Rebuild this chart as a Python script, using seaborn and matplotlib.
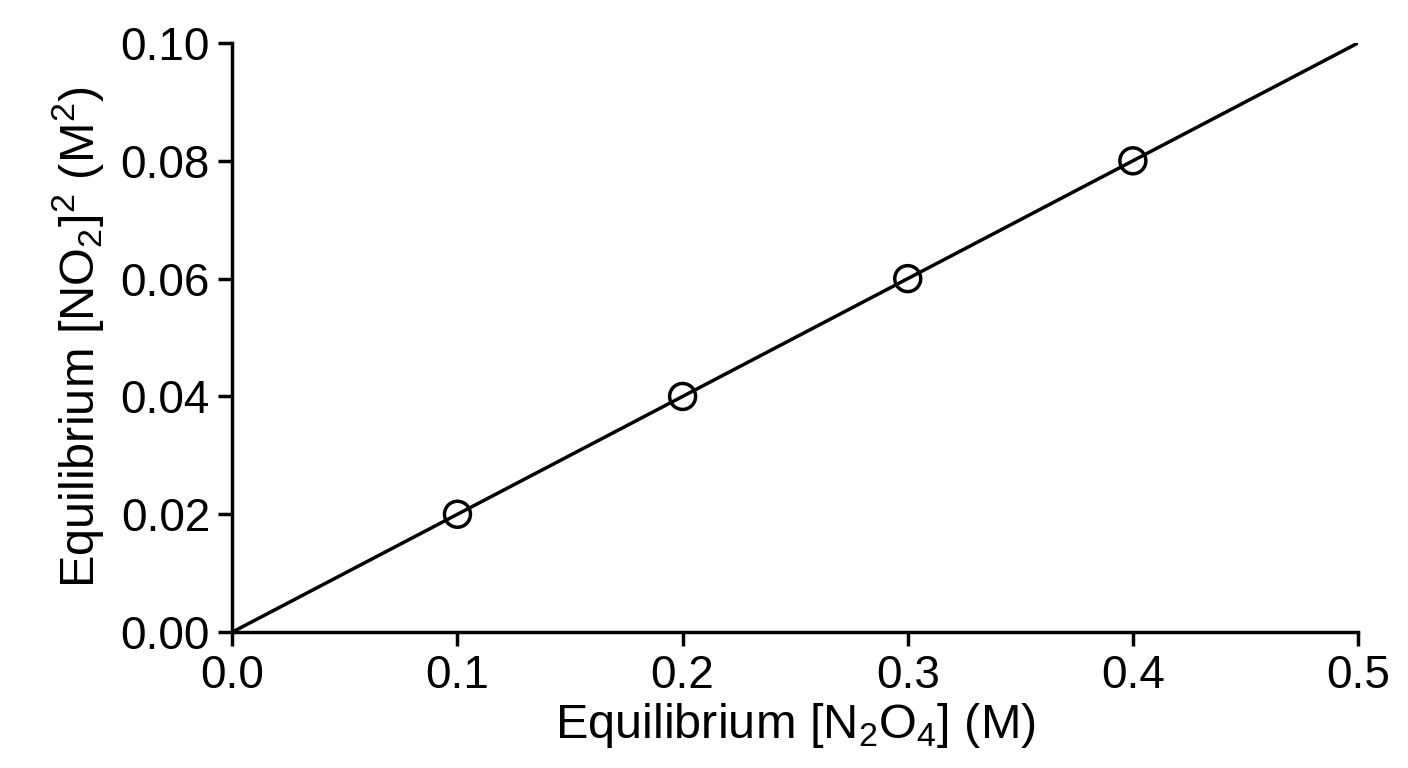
import numpy as np
import seaborn as sns
import matplotlib.pyplot as plt

n2o4 = [0.1, 0.2, 0.3, 0.4]
no2_sq = [0.02, 0.04, 0.06, 0.08]
fit_x = [0.0, 0.5]
fit_y = [0.0, 0.10]

sns.set_style('ticks')
plt.rcParams['font.family'] = ['Liberation Sans', 'DejaVu Sans']
plt.rcParams['mathtext.fontset'] = 'custom'
plt.rcParams['mathtext.rm'] = 'Liberation Sans'
plt.rcParams['text.color'] = 'black'
plt.rcParams['axes.labelcolor'] = 'black'
plt.rcParams['xtick.color'] = 'black'
plt.rcParams['ytick.color'] = 'black'
plt.rcParams['axes.edgecolor'] = 'black'

fig = plt.figure(figsize=(14.08, 7.68), dpi=100)
ax = fig.add_axes([0.165, 0.177, 0.7995, 0.767])

sns.lineplot(x=fit_x, y=fit_y, color='black', linewidth=2.5, ax=ax)
sns.scatterplot(x=n2o4, y=no2_sq, s=350, facecolor='none', edgecolor='black',
                linewidth=2.5, ax=ax, zorder=3)

ax.set_xlim(0, 0.5)
ax.set_ylim(0, 0.10)
ax.set_xticks([0.0, 0.1, 0.2, 0.3, 0.4, 0.5])
ax.set_xticklabels(['0.0', '0.1', '0.2', '0.3', '0.4', '0.5'])
ax.set_yticks([0.0, 0.02, 0.04, 0.06, 0.08, 0.10])
ax.set_yticklabels(['0.00', '0.02', '0.04', '0.06', '0.08', '0.10'])
ax.tick_params(axis='both', labelsize=33, width=2.5, length=10, direction='out', pad=6)
for s in ['left', 'bottom']:
    ax.spines[s].set_linewidth(2.5)
for s in ['top', 'right']:
    ax.spines[s].set_visible(False)

ax.set_xlabel('Equilibrium [N$_2$O$_4$] (M)', fontsize=35, labelpad=2)
ax.set_ylabel('Equilibrium [NO$_2$]$^2$ (M$^2$)', fontsize=35, labelpad=10)

fig.savefig('out.png', dpi=100)
